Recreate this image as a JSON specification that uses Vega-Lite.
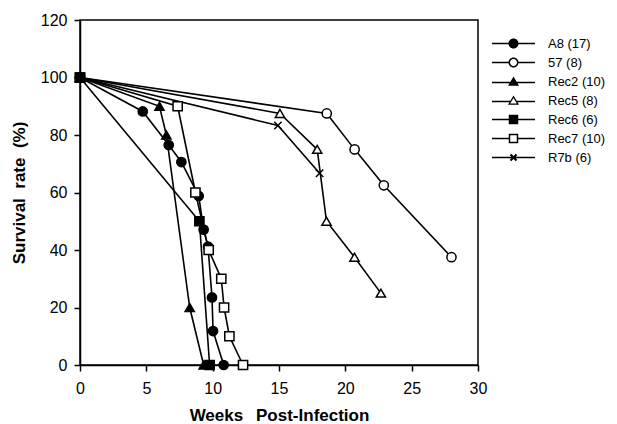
{
  "$schema": "https://vega.github.io/schema/vega-lite/v6.json",
  "width": 398,
  "height": 345,
  "autosize": "none",
  "padding": {"left": 80, "top": 20, "right": 139, "bottom": 59},
  "background": "white",
  "config": {
    "view": {"stroke": "black", "strokeWidth": 1.5},
    "font": "Liberation Sans",
    "axis": {
      "domainColor": "black", "domainWidth": 1.5,
      "tickColor": "black", "tickWidth": 1.5,
      "labelColor": "black", "titleColor": "black",
      "labelFont": "Liberation Sans", "titleFont": "Liberation Sans",
      "grid": false, "labelFlush": false, "labelOverlap": false
    }
  },
  "data": {
    "values": [
      {"series": "A8 (17)", "week": 0, "rate": 100},
      {"series": "A8 (17)", "week": 4.73, "rate": 88.2},
      {"series": "A8 (17)", "week": 6.69, "rate": 76.5},
      {"series": "A8 (17)", "week": 7.64, "rate": 70.6},
      {"series": "A8 (17)", "week": 8.95, "rate": 58.8},
      {"series": "A8 (17)", "week": 9.32, "rate": 47.1},
      {"series": "A8 (17)", "week": 9.65, "rate": 41.2},
      {"series": "A8 (17)", "week": 9.95, "rate": 23.5},
      {"series": "A8 (17)", "week": 10.03, "rate": 11.8},
      {"series": "A8 (17)", "week": 10.83, "rate": 0},
      {"series": "57 (8)", "week": 0, "rate": 100},
      {"series": "57 (8)", "week": 18.6, "rate": 87.5},
      {"series": "57 (8)", "week": 20.7, "rate": 75},
      {"series": "57 (8)", "week": 22.9, "rate": 62.5},
      {"series": "57 (8)", "week": 28.0, "rate": 37.5},
      {"series": "Rec2 (10)", "week": 0, "rate": 100},
      {"series": "Rec2 (10)", "week": 5.99, "rate": 90},
      {"series": "Rec2 (10)", "week": 6.51, "rate": 80},
      {"series": "Rec2 (10)", "week": 8.27, "rate": 20},
      {"series": "Rec2 (10)", "week": 9.32, "rate": 0},
      {"series": "Rec5 (8)", "week": 0, "rate": 100},
      {"series": "Rec5 (8)", "week": 15.07, "rate": 87.5},
      {"series": "Rec5 (8)", "week": 17.88, "rate": 75},
      {"series": "Rec5 (8)", "week": 18.58, "rate": 50},
      {"series": "Rec5 (8)", "week": 20.69, "rate": 37.5},
      {"series": "Rec5 (8)", "week": 22.68, "rate": 25},
      {"series": "Rec7 (10)", "week": 0, "rate": 100},
      {"series": "Rec7 (10)", "week": 7.36, "rate": 90},
      {"series": "Rec7 (10)", "week": 8.7, "rate": 60},
      {"series": "Rec7 (10)", "week": 9.7, "rate": 40},
      {"series": "Rec7 (10)", "week": 10.65, "rate": 30},
      {"series": "Rec7 (10)", "week": 10.86, "rate": 20},
      {"series": "Rec7 (10)", "week": 11.26, "rate": 10},
      {"series": "Rec7 (10)", "week": 12.29, "rate": 0},
      {"series": "R7b (6)", "week": 0, "rate": 100},
      {"series": "R7b (6)", "week": 14.92, "rate": 83.3},
      {"series": "R7b (6)", "week": 18.06, "rate": 66.7},
      {"series": "Rec6 (6)", "week": 0, "rate": 100},
      {"series": "Rec6 (6)", "week": 9.0, "rate": 50},
      {"series": "Rec6 (6)", "week": 9.77, "rate": 0}
    ]
  },
  "resolve": {"scale": {"shape": "independent"}},
  "layer": [
    {
      "mark": {"type": "line", "color": "black", "strokeWidth": 1.6},
      "encoding": {
        "x": {"field": "week", "type": "quantitative",
          "scale": {"domain": [0, 30], "nice": false},
          "axis": {"orient": "bottom",
            "values": [0, 2.5, 5, 7.5, 10, 12.5, 15, 17.5, 20, 22.5, 25, 27.5, 30],
            "labelExpr": "datum.value % 5 === 0 ? datum.label : ''",
            "tickSize": 6, "labelFontSize": 16, "labelPadding": 9,
            "title": "Weeks\u00a0\u00a0\u2009Post-Infection", "titleFontSize": 17, "titleFontWeight": "bold", "titlePadding": 11,
            "encode": {"ticks": {"y2": {"value": {"signal": "datum.value % 5 === 0 ? 6 : 3"}}}}}},
        "y": {"field": "rate", "type": "quantitative",
          "scale": {"domain": [0, 120], "nice": false},
          "axis": {"orient": "left",
            "values": [0, 10, 20, 30, 40, 50, 60, 70, 80, 90, 100, 110, 120],
            "labelExpr": "datum.value % 20 === 0 ? datum.label : ''",
            "tickSize": 6, "labelFontSize": 16, "labelPadding": 7,
            "title": "Survival\u00a0\u00a0rate\u00a0\u00a0(%)", "titleFontSize": 17, "titleFontWeight": "bold", "titlePadding": 12,
            "encode": {"ticks": {"x2": {"value": {"signal": "datum.value % 20 === 0 ? -6 : -3"}}}}}},
        "detail": {"field": "series"}
      }
    },
    {
      "mark": {"type": "point", "stroke": "black", "strokeWidth": 1.5, "size": 85, "opacity": 1},
      "encoding": {
        "x": {"field": "week", "type": "quantitative"},
        "y": {"field": "rate", "type": "quantitative"},
        "shape": {"field": "series", "type": "nominal",
          "scale": {
            "domain": ["A8 (17)", "57 (8)", "Rec2 (10)", "Rec5 (8)", "Rec6 (6)", "Rec7 (10)", "R7b (6)"],
            "range": ["circle", "circle", "triangle-up", "triangle-up", "square", "square", "M-0.8,-0.8L0.8,0.8M-0.8,0.8L0.8,-0.8"]
          },
          "legend": null
        },
        "fill": {"field": "series", "type": "nominal",
          "scale": {
            "domain": ["A8 (17)", "57 (8)", "Rec2 (10)", "Rec5 (8)", "Rec6 (6)", "Rec7 (10)", "R7b (6)"],
            "range": ["black", "white", "black", "white", "black", "white", "black"]
          },
          "legend": null
        }
      }
    },
    {
      "transform": [{"filter": "false"}],
      "mark": {"type": "point", "filled": true, "color": "black", "strokeWidth": 0, "opacity": 1, "size": 100},
      "encoding": {
        "x": {"field": "week", "type": "quantitative"},
        "y": {"field": "rate", "type": "quantitative"},
        "shape": {"field": "series", "type": "nominal",
          "scale": {
            "domain": ["A8 (17)", "57 (8)", "Rec2 (10)", "Rec5 (8)", "Rec6 (6)", "Rec7 (10)", "R7b (6)"],
            "range": [
              "M-4.3,-0.15H4.3V0.15H-4.3Z M1,0C1,0.552,0.552,1,0,1C-0.552,1,-1,0.552,-1,0C-1,-0.552,-0.552,-1,0,-1C0.552,-1,1,-0.552,1,0Z",
              "M-4.3,-0.15H-0.85V0.15H-4.3Z M0.85,-0.15H4.3V0.15H0.85Z M1,0C1,0.552,0.552,1,0,1C-0.552,1,-1,0.552,-1,0C-1,-0.552,-0.552,-1,0,-1C0.552,-1,1,-0.552,1,0Z M0.7,0C0.7,-0.387,0.387,-0.7,0,-0.7C-0.387,-0.7,-0.7,-0.387,-0.7,0C-0.7,0.387,-0.387,0.7,0,0.7C0.387,0.7,0.7,0.387,0.7,0Z",
              "M-4.3,0.05H4.3V0.35H-4.3Z M0,-1L1.1,0.85L-1.1,0.85Z",
              "M-4.3,0.05H-0.6V0.35H-4.3Z M0.6,0.05H4.3V0.35H0.6Z M0,-1L1.1,0.85L-1.1,0.85Z M0,-0.51L-0.66,0.6L0.66,0.6Z",
              "M-4.3,-0.15H4.3V0.15H-4.3Z M-0.95,-0.95H0.95V0.95H-0.95Z",
              "M-4.3,-0.15H-0.8V0.15H-4.3Z M0.8,-0.15H4.3V0.15H0.8Z M-0.95,-0.95H0.95V0.95H-0.95Z M-0.65,-0.65V0.65H0.65V-0.65Z",
              "M-4.3,-0.15H4.3V0.15H-4.3Z M-0.459,-0.741L0.741,0.459L0.459,0.741L-0.741,-0.459Z M-0.741,0.459L0.459,-0.741L0.741,-0.459L-0.459,0.741Z"
            ]
          },
          "legend": {
            "orient": "none", "legendX": 427, "legendY": 17,
            "title": null, "padding": 0, "symbolSize": 100, "rowPadding": 5,
            "labelFontSize": 13, "labelFont": "Liberation Sans", "labelColor": "black", "labelOffset": 28,
            "symbolStrokeWidth": 0, "symbolFillColor": "black", "symbolOpacity": 1
          }
        }
      }
    }
  ]
}
